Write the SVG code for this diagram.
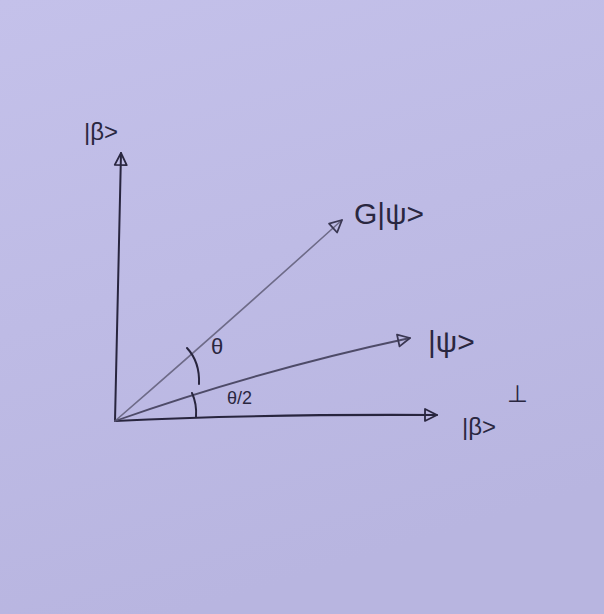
<svg xmlns="http://www.w3.org/2000/svg" width="604" height="614" viewBox="0 0 604 614">
<defs>
<linearGradient id="bg" x1="0" y1="0" x2="0.3" y2="1">
<stop offset="0" stop-color="#c4c1ea"/>
<stop offset="1" stop-color="#b8b5e0"/>
</linearGradient>
<marker id="ah" viewBox="0 0 16 16" refX="14" refY="8" markerWidth="16" markerHeight="16" markerUnits="userSpaceOnUse" orient="auto">
<path d="M2,2 L14,8 L2,14 Z" fill="none" stroke="#2a2740" stroke-width="1.8" stroke-linejoin="round"/>
</marker>
<marker id="ahl" viewBox="0 0 16 16" refX="14" refY="8" markerWidth="16" markerHeight="16" markerUnits="userSpaceOnUse" orient="auto">
<path d="M2,2 L14,8 L2,14 Z" fill="none" stroke="#3a3752" stroke-width="1.8" stroke-linejoin="round"/>
</marker>
</defs>
<style>
.t{font-family:"Liberation Sans","DejaVu Sans",sans-serif;fill:#2a2740;font-weight:normal}
.ax{fill:none;stroke:#28253e;stroke-width:2;stroke-linecap:round}
.vec{fill:none;stroke:#6e6b88;stroke-width:1.6;stroke-linecap:round}
.vec2{fill:none;stroke:#4e4b68;stroke-width:1.8;stroke-linecap:round}
.arc{fill:none;stroke:#28253e;stroke-width:2;stroke-linecap:round}
</style>
<rect x="0" y="0" width="604" height="614" fill="url(#bg)"/>
<g id="connectors">
<path id="axis-beta" class="ax" d="M115,421 L121,153" marker-end="url(#ah)"/>
<path id="axis-beta-perp" class="ax" d="M115,421 Q250,414 437,415" marker-end="url(#ah)"/>
<path id="vec-gpsi" class="vec" d="M115,421 Q220,330 342,220" marker-end="url(#ahl)"/>
<path id="vec-psi" class="vec2" d="M115,421 Q260,370 410,338" marker-end="url(#ahl)"/>
<path id="arc-theta" class="arc" d="M187,348 Q200,362 199,384"/>
<path id="arc-theta2" class="arc" d="M192,393 Q197,404 196,417"/>
</g>
<g id="node-beta"><text class="t" x="84" y="140" font-size="24">|β&gt;</text></g>
<g id="node-gpsi"><text class="t" x="354" y="224" font-size="30">G|ψ&gt;</text></g>
<g id="node-psi"><text class="t" x="428" y="352" font-size="30">|ψ&gt;</text></g>
<g id="node-beta-perp"><text class="t" x="462" y="435" font-size="24">|β&gt;</text><text class="t" x="507" y="402" font-size="24">⊥</text></g>
<g id="label-theta"><text class="t" x="211" y="354" font-size="22">θ</text></g>
<g id="label-theta2"><text class="t" x="227" y="404" font-size="18">θ/2</text></g>
</svg>
